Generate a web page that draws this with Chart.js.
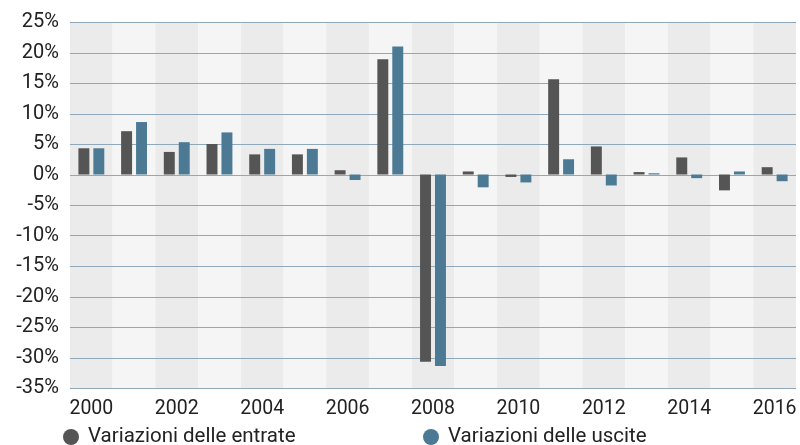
<!DOCTYPE html>
<html lang="it">
<head>
<meta charset="utf-8">
<title>Variazioni delle entrate e delle uscite</title>
<script src="https://cdn.jsdelivr.net/npm/chart.js@4/dist/chart.umd.min.js"></script>
<style>
  html, body { margin: 0; padding: 0; background: #ffffff; }
  #wrap { width: 800px; height: 445px; position: relative; }
</style>
</head>
<body>
<div id="wrap"><canvas id="chart" width="800" height="445"></canvas></div>
<script>
// Anni
const years = ['2000','2001','2002','2003','2004','2005','2006','2007','2008',
               '2009','2010','2011','2012','2013','2014','2015','2016'];
// Variazioni annue in percentuale
const entrate = [4.3, 7.1, 3.7, 5.0, 3.3, 3.3, 0.7, 18.9, -30.7, 0.5, -0.4, 15.6, 4.6, 0.4, 2.8, -2.6, 1.2];
const uscite  = [4.3, 8.6, 5.3, 6.9, 4.2, 4.2, -0.9, 21.0, -31.4, -2.1, -1.3, 2.5, -1.8, 0.2, -0.6, 0.5, -1.1];
// Etichette dell'asse orizzontale (un anno su due)
const xTickLabels = ['2000','','2002','','2004','','2006','','2008','','2010','','2012','','2014','','2016'];
const seriesNames = ['Variazioni delle entrate', 'Variazioni delle uscite'];
const seriesColors = ['#555555', '#4c7a94'];

const FONT = 'Roboto, "Liberation Sans", sans-serif';
const TEXT_COLOR = '#222222';

// Bande verticali alternate dietro le barre, con la griglia orizzontale sopra
const columnBands = {
  id: 'columnBands',
  beforeDatasetsDraw(chart) {
    const { ctx, chartArea, scales } = chart;
    const x = scales.x;
    const step = (chartArea.right - chartArea.left) / years.length;
    ctx.save();
    years.forEach((_, i) => {
      const c = x.getPixelForValue(i);
      ctx.fillStyle = i % 2 === 0 ? '#ebebeb' : '#f5f5f5';
      ctx.fillRect(c - step / 2, chartArea.top, step, chartArea.bottom - chartArea.top);
    });
    ctx.restore();
    const y = scales.y;
    ctx.save();
    ctx.strokeStyle = '#8fa8ba';
    ctx.lineWidth = 1;
    y.ticks.forEach(t => {
      const py = Math.round(y.getPixelForValue(t.value)) + 0.5;
      ctx.beginPath();
      ctx.moveTo(chartArea.left, py);
      ctx.lineTo(chartArea.right, py);
      ctx.stroke();
    });
    ctx.restore();
  }
};

// Legenda su una riga, con indicatori circolari
const rowLegend = {
  id: 'rowLegend',
  afterDraw(chart) {
    const { ctx } = chart;
    const starts = [63, 423];
    const cy = 437;
    ctx.save();
    ctx.font = '20.5px ' + FONT;
    ctx.textBaseline = 'middle';
    chart.data.datasets.forEach((ds, i) => {
      const x0 = starts[i];
      ctx.fillStyle = ds.backgroundColor;
      ctx.beginPath();
      ctx.arc(x0 + 8, cy, 8, 0, Math.PI * 2);
      ctx.fill();
      ctx.fillStyle = TEXT_COLOR;
      ctx.fillText(ds.label, x0 + 25, cy);
    });
    ctx.restore();
  }
};

new Chart(document.getElementById('chart'), {
  type: 'bar',
  data: {
    labels: years,
    datasets: [
      { label: seriesNames[0], data: entrate, backgroundColor: seriesColors[0] },
      { label: seriesNames[1], data: uscite,  backgroundColor: seriesColors[1] }
    ]
  },
  options: {
    responsive: false,
    animation: false,
    devicePixelRatio: 1,
    layout: { padding: { top: 22, right: 4, bottom: 22, left: 0 } },
    datasets: { bar: { barPercentage: 0.733, categoryPercentage: 0.70 } },
    plugins: {
      legend: { display: false },
      tooltip: { enabled: false }
    },
    scales: {
      x: {
        offset: true,
        grid: { display: false, drawTicks: false },
        border: { display: false },
        ticks: {
          autoSkip: false,
          maxRotation: 0,
          padding: 9,
          color: TEXT_COLOR,
          font: { family: FONT, size: 19.5 },
          callback: (v, i) => xTickLabels[i]
        },
        afterFit(s) { s.height = 35; s.paddingLeft = 0; s.paddingRight = 0; }
      },
      y: {
        min: -35,
        max: 25,
        grid: { display: false, drawTicks: false },
        border: { display: false },
        ticks: {
          stepSize: 5,
          padding: 11,
          color: TEXT_COLOR,
          font: { family: FONT, size: 20 },
          callback: v => v + '%'
        },
        afterFit(s) { s.width = 70; s.paddingTop = 0; s.paddingBottom = 0; }
      }
    }
  },
  plugins: [columnBands, rowLegend]
});
</script>
</body>
</html>
